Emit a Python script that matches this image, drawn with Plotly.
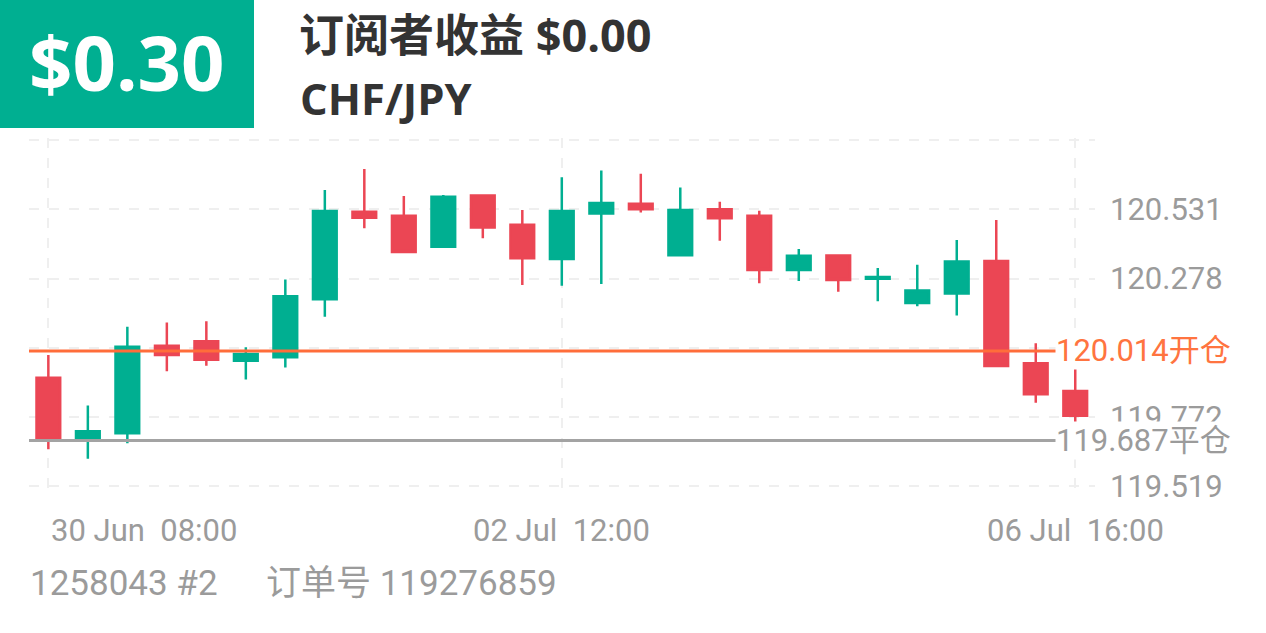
import plotly.graph_objects as go

W, H = 1266, 633      # reference picture size (layout coordinates)
FIG_H = 648           # rendered figure height (compensates the capture's vertical scale)

times = [
    "30 Jun  08:00", "30 Jun  12:00", "30 Jun  16:00", "30 Jun  20:00",
    "01 Jul  00:00", "01 Jul  04:00", "01 Jul  08:00", "01 Jul  12:00",
    "01 Jul  16:00", "01 Jul  20:00", "02 Jul  00:00", "02 Jul  04:00",
    "02 Jul  08:00", "02 Jul  12:00", "02 Jul  16:00", "02 Jul  20:00",
    "03 Jul  00:00", "03 Jul  04:00", "03 Jul  08:00", "03 Jul  12:00",
    "03 Jul  16:00", "03 Jul  20:00", "06 Jul  00:00", "06 Jul  04:00",
    "06 Jul  08:00", "06 Jul  12:00", "06 Jul  16:00",
]
opens = [119.916, 119.689, 119.713, 120.033, 120.049, 119.978, 119.991, 120.203,
         120.522, 120.507, 120.394, 120.581, 120.475, 120.350, 120.516, 120.551,
         120.363, 120.531, 120.507, 120.309, 120.362, 120.277, 120.189, 120.224,
         120.342, 119.969, 119.868]
highs = [119.999, 119.815, 120.102, 120.118, 120.122, 120.027, 120.275, 120.601,
         120.678, 120.580, 120.583, 120.583, 120.528, 120.648, 120.673, 120.661,
         120.611, 120.559, 120.526, 120.386, 120.364, 120.317, 120.329, 120.419,
         120.492, 120.042, 119.965]
lows = [119.655, 119.620, 119.677, 119.940, 119.960, 119.910, 119.953, 120.139,
        120.462, 120.375, 120.394, 120.425, 120.255, 120.252, 120.258, 120.519,
        120.363, 120.416, 120.261, 120.269, 120.230, 120.195, 120.177, 120.143,
        119.959, 119.825, 119.627]
closes = [119.689, 119.721, 120.029, 119.999, 119.982, 120.003, 120.214, 120.525,
          120.500, 120.375, 120.577, 120.465, 120.352, 120.525, 120.554, 120.531,
          120.528, 120.498, 120.309, 120.361, 120.273, 120.284, 120.235, 120.340,
          119.959, 119.856, 119.777]

y_ticks = [119.519, 119.772, 120.025, 120.278, 120.531, 120.784]
y_tick_text = ["119.519", "119.772", "", "120.278", "120.531", ""]
x_tick_idx = [0, 13, 26]

open_price = 120.014
close_price = 119.687
profit = "$0.30"
subscriber = "订阅者收益 $0.00"
symbol = "CHF/JPY"
account = "1258043 #2"
order = "订单号 119276859"

GREEN = "#00AF91"
RED = "#EB4654"
ORANGE = "#FF6D3A"
GRAY_LINE = "#A3A3A3"
GRAY_TEXT = "#9B9B9B"
CHART_FONT = "Roboto, Noto Sans CJK SC, sans-serif"
HEAD_FONT = "Open Sans, Noto Sans CJK SC, sans-serif"

def px_x(p):
    return p / W

def px_y(p):
    return 1 - p / H

fig = go.Figure()
fig.add_trace(go.Candlestick(
    x=times, open=opens, high=highs, low=lows, close=closes,
    increasing=dict(line=dict(color=GREEN, width=2.5), fillcolor=GREEN),
    decreasing=dict(line=dict(color=RED, width=2.5), fillcolor=RED),
    whiskerwidth=0, showlegend=False, hoverinfo="skip",
))

grid = dict(showgrid=True, gridcolor="#EFEFEF", gridwidth=2, griddash="10px,10px",
            zeroline=False, showline=False)

fig.update_layout(
    width=W, height=FIG_H, autosize=False,
    margin=dict(l=0, r=0, t=0, b=0),
    paper_bgcolor="white", plot_bgcolor="white",
    boxgap=0.4, boxgroupgap=0,
    showlegend=False,
    xaxis=dict(
        type="category", domain=[px_x(29), px_x(1095)], range=[-0.49, 26.5],
        tickmode="array", tickvals=[times[i] for i in x_tick_idx],
        showticklabels=False, rangeslider=dict(visible=False), fixedrange=True,
        **grid,
    ),
    yaxis=dict(
        side="right", domain=[px_y(490), px_y(138)], range=[119.5062, 120.7913],
        tickmode="array", tickvals=y_ticks, ticktext=y_tick_text,
        ticks="", ticklabelstandoff=14,
        tickfont=dict(family=CHART_FONT, size=31, color=GRAY_TEXT),
        fixedrange=True, **grid,
    ),
)

# header box
fig.add_shape(type="rect", xref="paper", yref="paper",
              x0=0, x1=px_x(254), y0=px_y(128), y1=1,
              fillcolor=GREEN, line=dict(width=0), layer="below")

# price reference lines
fig.add_shape(type="line", xref="paper", yref="y", x0=px_x(29), x1=px_x(1056),
              y0=open_price, y1=open_price, line=dict(color=ORANGE, width=3), layer="above")
fig.add_shape(type="line", xref="paper", yref="y", x0=px_x(29), x1=px_x(1056),
              y0=close_price, y1=close_price, line=dict(color=GRAY_LINE, width=3), layer="above")

ann = []
ann.append(dict(text=f"{open_price:.3f}开仓", xref="paper", yref="y",
                x=px_x(1055), y=open_price, xanchor="left", yanchor="middle",
                showarrow=False, bgcolor="white", borderpad=0,
                font=dict(family=CHART_FONT, size=31, color="#FF7440")))
ann.append(dict(text=f"{close_price:.3f}平仓", xref="paper", yref="y",
                x=px_x(1055), y=close_price, xanchor="left", yanchor="middle",
                showarrow=False, bgcolor="white", borderpad=0,
                font=dict(family=CHART_FONT, size=31, color=GRAY_TEXT)))

# x tick labels
for k, i in enumerate(x_tick_idx):
    ann.append(dict(text=times[i], xref="x", yref="paper", x=times[i], y=px_y(530),
                    xanchor="left" if k == 0 else "center", yanchor="middle",
                    xshift=1 if k == 0 else 0, showarrow=False,
                    font=dict(family=CHART_FONT, size=31, color=GRAY_TEXT)))

# header texts
ann.append(dict(text=f"<b>{profit}</b>", xref="paper", yref="paper",
                x=px_x(127), y=px_y(61), xanchor="center", yanchor="middle",
                showarrow=False, font=dict(family=HEAD_FONT, size=76, color="white")))
ann.append(dict(text=f"<b>{subscriber}</b>", xref="paper", yref="paper",
                x=px_x(297), y=px_y(35), xanchor="left", yanchor="middle",
                showarrow=False, font=dict(family=HEAD_FONT, size=45, color="#333333")))
ann.append(dict(text=f"<b>{symbol}</b>", xref="paper", yref="paper",
                x=px_x(298), y=px_y(99), xanchor="left", yanchor="middle",
                showarrow=False, font=dict(family=HEAD_FONT, size=43.5, color="#333333")))

# footer
ann.append(dict(text=account, xref="paper", yref="paper", x=px_x(28), y=px_y(583),
                xanchor="left", yanchor="middle", showarrow=False,
                font=dict(family=CHART_FONT, size=35, color=GRAY_TEXT)))
ann.append(dict(text=order, xref="paper", yref="paper", x=px_x(264), y=px_y(583),
                xanchor="left", yanchor="middle", showarrow=False,
                font=dict(family=CHART_FONT, size=35, color=GRAY_TEXT)))

fig.update_layout(annotations=ann)
fig.write_html("out.html", config={"displayModeBar": False, "responsive": False},
               post_script="document.body.style.margin='0';document.body.style.overflow='hidden';")
